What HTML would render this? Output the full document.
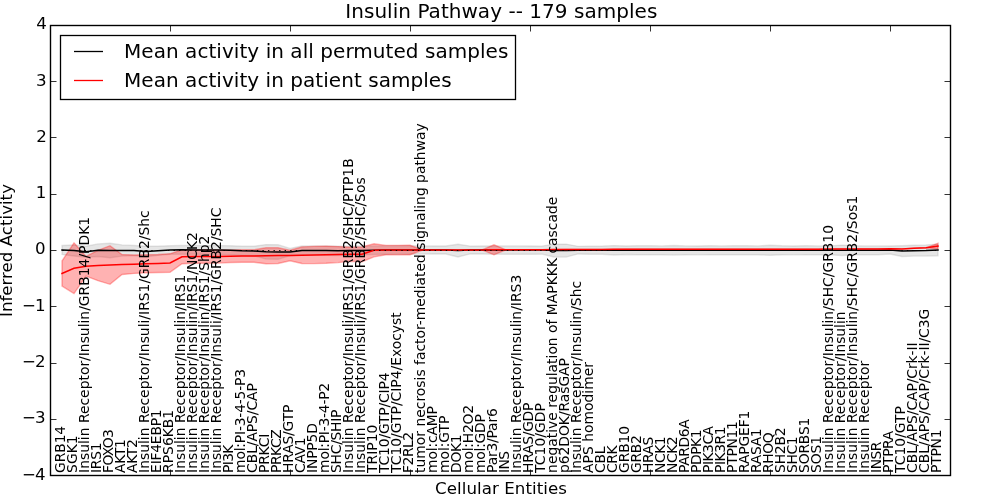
<!DOCTYPE html>
<html lang="en"><head><meta charset="utf-8"><title>Insulin Pathway -- 179 samples</title>
<style>
html,body{margin:0;padding:0;background:#fff;}
body{width:1000px;height:500px;overflow:hidden;}
svg{display:block;}
text{font-family:"DejaVu Sans","Liberation Sans",sans-serif;fill:#000;}
.t12{font-size:16.67px;}
.t14{font-size:20px;}
.t10{font-size:13.89px;}
</style></head><body>
<svg width="1000" height="500" viewBox="0 0 1000 500">
<rect x="0" y="0" width="1000" height="500" fill="#fff"/>
<polygon points="62,245.5 74,245 86,246.3 98,243.9 110,243.3 122,244.9 134,245.5 146,246.3 158,246.2 170,245.8 182,245.4 194,245.5 206,245.6 218,245.6 230,245.8 242,246.2 254,246.2 266,244.6 278,244.7 290,248.4 302,246 314,245.9 326,246 338,246.1 350,246.1 362,246 374,245.9 386,245.85 398,245.8 410,245.8 422,245.9 434,246 446,246 458,244.2 470,246.1 482,246.05 494,245.95 506,245.9 518,245.9 530,246 542,246.1 554,244.2 566,244.1 578,246.35 590,246.2 602,246.1 614,245.6 626,246.05 638,245.8 650,245.7 662,245.9 674,245.5 686,245.9 698,246 710,245.7 722,245.9 734,245.8 746,245.8 758,245.9 770,245.3 782,245.8 794,246 806,245.7 818,245.9 830,245.9 842,245.1 854,245.8 866,245.9 878,245.9 890,246 902,245.7 914,245.3 926,244.9 938,244.2 938,255.8 926,256.1 914,256.1 902,256.5 890,254 878,254.7 866,254.7 854,254.8 842,255.5 830,254.7 818,254.7 806,254.9 794,254.6 782,254.8 770,255.3 758,254.7 746,254.8 734,254.8 722,254.7 710,254.9 698,254.6 686,254.7 674,255.1 662,254.7 650,254.9 638,254.8 626,254.45 614,255 602,254.3 590,254.2 578,253.95 566,257.1 554,257 542,254.1 530,254.2 518,254.3 506,254.3 494,254.15 482,254.05 470,253.9 458,257 446,254 434,254 422,254.1 410,254.2 398,254.2 386,254.25 374,254.5 362,254.8 350,255.1 338,255.5 326,255.2 314,255.1 302,255 290,255.6 278,259.3 266,259 254,255.8 242,255.4 230,254.8 218,254.4 206,254.4 194,254.3 182,254.2 170,254.2 158,255.4 146,256.7 134,255.5 122,256.1 110,257.7 98,256.5 86,257.3 74,256 62,254.5" fill="#808080" fill-opacity="0.2" stroke="#808080" stroke-opacity="0.2" stroke-width="1.39"/>
<polygon points="62,261 74,242.8 86,256.4 98,250.3 110,245.7 122,254.5 134,255 146,254.8 158,254.5 170,253.8 182,249.8 194,249.7 206,249.7 218,249.9 230,249.9 242,249.8 254,249.7 266,247.8 278,247.7 290,250.2 302,246.9 314,246.4 326,246.3 338,246.6 350,247.3 362,246.9 374,243.8 386,245.4 398,245.4 410,245.3 422,249.7 434,250 446,250 458,250 470,249.95 482,249.9 494,244.85 506,249.8 518,249.75 530,249.7 542,249.65 554,249.6 566,249.55 578,249.5 590,249.45 602,249.4 614,249.35 626,249.3 638,249.3 650,249.3 662,249.3 674,249.3 686,249.3 698,249.3 710,249.3 722,249.3 734,249.3 746,249.3 758,249.3 770,249.3 782,249.3 794,249.3 806,249.3 818,249.3 830,249.1 842,249 854,249 866,249 878,249 890,248.8 902,248.9 914,248.3 926,247.8 938,243.3 938,248.9 926,247.8 914,248.3 902,248.9 890,248.8 878,249 866,249 854,249 842,249 830,249.1 818,249.3 806,249.3 794,249.3 782,249.3 770,249.3 758,249.3 746,249.3 734,249.3 722,249.3 710,249.3 698,249.3 686,249.3 674,249.3 662,249.3 650,249.3 638,249.3 626,249.3 614,249.35 602,249.4 590,249.45 578,249.5 566,249.55 554,249.6 542,249.65 530,249.7 518,249.75 506,249.8 494,254.85 482,249.9 470,249.95 458,250 446,250 434,250 422,250.3 410,254.7 398,254.6 386,254.8 374,256.8 362,261.7 350,261.3 338,262.6 326,263.3 314,263.6 302,263.5 290,260.8 278,263.5 266,263.8 254,262.3 242,262.2 230,262.5 218,263.1 206,263.3 194,263.3 182,263.8 170,272.2 158,272.5 146,272.8 134,273.4 122,274.5 110,284.3 98,280.7 86,276 74,293.6 62,286" fill="#ff0000" fill-opacity="0.3" stroke="#ff0000" stroke-opacity="0.3" stroke-width="1.39"/>
<polyline points="62,250 74,250.5 86,251.8 98,250.2 110,250.5 122,250.5 134,250.5 146,251.5 158,250.8 170,250 182,249.8 194,249.9 206,250 218,250 230,250.3 242,250.8 254,251 266,251.8 278,252 290,252 302,250.5 314,250.5 326,250.6 338,250.8 350,250.6 362,250.4 374,250.2 386,250.05 398,250 410,250 422,250 434,250 446,250 458,250.6 470,250 482,250.05 494,250.05 506,250.1 518,250.1 530,250.1 542,250.1 554,250.6 566,250.6 578,250.15 590,250.2 602,250.2 614,250.3 626,250.25 638,250.3 650,250.3 662,250.3 674,250.3 686,250.3 698,250.3 710,250.3 722,250.3 734,250.3 746,250.3 758,250.3 770,250.3 782,250.3 794,250.3 806,250.3 818,250.3 830,250.3 842,250.3 854,250.3 866,250.3 878,250.3 890,250 902,251.1 914,250.7 926,250.5 938,250" fill="none" stroke="#000" stroke-width="1.5" stroke-linecap="square"/>
<polyline points="62,273.5 74,268.2 86,266.2 98,265.5 110,265 122,264.5 134,264.2 146,263.8 158,263.5 170,263 182,256.8 194,256.5 206,256.5 218,256.5 230,256.2 242,256 254,256 266,255.8 278,255.6 290,255.5 302,255.2 314,255 326,254.8 338,254.6 350,254.3 362,254.3 374,250.3 386,250.1 398,250 410,250 422,250 434,250 446,250 458,250 470,249.95 482,249.9 494,249.85 506,249.8 518,249.75 530,249.7 542,249.65 554,249.6 566,249.55 578,249.5 590,249.45 602,249.4 614,249.35 626,249.3 638,249.3 650,249.3 662,249.3 674,249.3 686,249.3 698,249.3 710,249.3 722,249.3 734,249.3 746,249.3 758,249.3 770,249.3 782,249.3 794,249.3 806,249.3 818,249.3 830,249.1 842,249 854,249 866,249 878,249 890,248.8 902,248.9 914,248.3 926,247.8 938,246.1" fill="none" stroke="#ff0000" stroke-width="1.5" stroke-linecap="square"/>
<line x1="62.4" y1="250.5" x2="938.6" y2="250.5" stroke="#000" stroke-width="1" stroke-dasharray="1.39,4.166" stroke-opacity="0.9"/>
<path d="M170.5,475.5 v-6 M170.5,25.5 v6 M290.5,475.5 v-6 M290.5,25.5 v6 M410.5,475.5 v-6 M410.5,25.5 v6 M530.5,475.5 v-6 M530.5,25.5 v6 M650.5,475.5 v-6 M650.5,25.5 v6 M770.5,475.5 v-6 M770.5,25.5 v6 M890.5,475.5 v-6 M890.5,25.5 v6 M50.5,81.5 h6 M950.5,81.5 h-6 M50.5,137.5 h6 M950.5,137.5 h-6 M50.5,194.5 h6 M950.5,194.5 h-6 M50.5,250.5 h6 M950.5,250.5 h-6 M50.5,306.5 h6 M950.5,306.5 h-6 M50.5,363.5 h6 M950.5,363.5 h-6 M50.5,419.5 h6 M950.5,419.5 h-6" stroke="#000" stroke-width="1" stroke-opacity="0.8" fill="none"/>
<rect x="50.5" y="25.5" width="900" height="450" fill="none" stroke="#000" stroke-width="1.39"/>
<text class="t12" x="46.8" y="29.4" text-anchor="end">4</text>
<text class="t12" x="46.6" y="85.65" text-anchor="end">3</text>
<text class="t12" x="46.8" y="141.9" text-anchor="end">2</text>
<text class="t12" x="46.4" y="198.15" text-anchor="end">1</text>
<text class="t12" x="45.6" y="254.4" text-anchor="end">0</text>
<text class="t12" y="310.65"><tspan x="36" text-anchor="end">−</tspan><tspan x="45.5" text-anchor="end">1</tspan></text>
<text class="t12" y="366.9"><tspan x="36" text-anchor="end">−</tspan><tspan x="45.5" text-anchor="end">2</tspan></text>
<text class="t12" y="423.15"><tspan x="36" text-anchor="end">−</tspan><tspan x="45.5" text-anchor="end">3</tspan></text>
<text class="t12" y="480.2"><tspan x="36" text-anchor="end">−</tspan><tspan x="45.5" text-anchor="end">4</tspan></text>
<text class="t10" transform="translate(64.9,472.9) rotate(-90)" textLength="47.08" lengthAdjust="spacing">GRB14</text>
<text class="t10" transform="translate(76.9,472.9) rotate(-90)">SGK1</text>
<text class="t10" transform="translate(88.9,472.9) rotate(-90)">Insulin Receptor/Insulin/GRB14/PDK1</text>
<text class="t10" transform="translate(100.9,472.9) rotate(-90)" textLength="30.38" lengthAdjust="spacing">IRS1</text>
<text class="t10" transform="translate(112.9,472.9) rotate(-90)" textLength="43.79" lengthAdjust="spacing">FOXO3</text>
<text class="t10" transform="translate(124.9,472.9) rotate(-90)" textLength="33.83" lengthAdjust="spacing">AKT1</text>
<text class="t10" transform="translate(136.9,472.9) rotate(-90)" textLength="33.63" lengthAdjust="spacing">AKT2</text>
<text class="t10" transform="translate(148.9,472.9) rotate(-90)">Insulin Receptor/Insuli/IRS1/GRB2/Shc</text>
<text class="t10" transform="translate(160.9,472.9) rotate(-90)" textLength="63.56" lengthAdjust="spacing">EIF4EBP1</text>
<text class="t10" transform="translate(172.9,472.9) rotate(-90)">RPS6KB1</text>
<text class="t10" transform="translate(184.9,472.9) rotate(-90)">Insulin Receptor/Insulin/IRS1</text>
<text class="t10" transform="translate(196.9,472.9) rotate(-90)">Insulin Receptor/Insulin/IRS1/NCK2</text>
<text class="t10" transform="translate(208.9,472.9) rotate(-90)" textLength="237.23" lengthAdjust="spacing">Insulin Receptor/Insulin/IRS1/Shp2</text>
<text class="t10" transform="translate(220.9,472.9) rotate(-90)" textLength="265.34" lengthAdjust="spacing">Insulin Receptor/Insuli/IRS1/GRB2/SHC</text>
<text class="t10" transform="translate(232.9,472.9) rotate(-90)" textLength="28.39" lengthAdjust="spacing">PI3K</text>
<text class="t10" transform="translate(244.9,472.9) rotate(-90)" textLength="103.9" lengthAdjust="spacing">mol:PI-3-4-5-P3</text>
<text class="t10" transform="translate(256.9,472.9) rotate(-90)" textLength="89.7" lengthAdjust="spacing">CBL/APS/CAP</text>
<text class="t10" transform="translate(268.9,472.9) rotate(-90)" textLength="39.14" lengthAdjust="spacing">PRKCI</text>
<text class="t10" transform="translate(280.9,472.9) rotate(-90)" textLength="43.55" lengthAdjust="spacing">PRKCZ</text>
<text class="t10" transform="translate(292.9,472.9) rotate(-90)" textLength="68.19" lengthAdjust="spacing">HRAS/GTP</text>
<text class="t10" transform="translate(304.9,472.9) rotate(-90)" textLength="35.42" lengthAdjust="spacing">CAV1</text>
<text class="t10" transform="translate(316.9,472.9) rotate(-90)" textLength="49.72" lengthAdjust="spacing">INPP5D</text>
<text class="t10" transform="translate(328.9,472.9) rotate(-90)" textLength="90.08" lengthAdjust="spacing">mol:PI-3-4-P2</text>
<text class="t10" transform="translate(340.9,472.9) rotate(-90)" textLength="63.31" lengthAdjust="spacing">SHC/SHIP</text>
<text class="t10" transform="translate(352.9,472.9) rotate(-90)">Insulin Receptor/Insuli/IRS1/GRB2/SHC/PTP1B</text>
<text class="t10" transform="translate(364.9,472.9) rotate(-90)">Insulin Receptor/Insuli/IRS1/GRB2/SHC/Sos</text>
<text class="t10" transform="translate(376.9,472.9) rotate(-90)">TRIP10</text>
<text class="t10" transform="translate(388.9,472.9) rotate(-90)" textLength="100.44" lengthAdjust="spacing">TC10/GTP/CIP4</text>
<text class="t10" transform="translate(400.9,472.9) rotate(-90)">TC10/GTP/CIP4/Exocyst</text>
<text class="t10" transform="translate(412.9,472.9) rotate(-90)" textLength="41.02" lengthAdjust="spacing">F2RL2</text>
<text class="t10" transform="translate(424.9,472.9) rotate(-90)">tumor necrosis factor-mediated signaling pathway</text>
<text class="t10" transform="translate(436.9,472.9) rotate(-90)" textLength="66.8" lengthAdjust="spacing">mol:cAMP</text>
<text class="t10" transform="translate(448.9,472.9) rotate(-90)" textLength="57.24" lengthAdjust="spacing">mol:GTP</text>
<text class="t10" transform="translate(460.9,472.9) rotate(-90)" textLength="38.55" lengthAdjust="spacing">DOK1</text>
<text class="t10" transform="translate(472.9,472.9) rotate(-90)" textLength="67.95" lengthAdjust="spacing">mol:H2O2</text>
<text class="t10" transform="translate(484.9,472.9) rotate(-90)" textLength="58.74" lengthAdjust="spacing">mol:GDP</text>
<text class="t10" transform="translate(496.9,472.9) rotate(-90)" textLength="64.63" lengthAdjust="spacing">Par3/Par6</text>
<text class="t10" transform="translate(508.9,472.9) rotate(-90)" textLength="21.88" lengthAdjust="spacing">INS</text>
<text class="t10" transform="translate(520.9,472.9) rotate(-90)">Insulin Receptor/Insulin/IRS3</text>
<text class="t10" transform="translate(532.9,472.9) rotate(-90)" textLength="70.3" lengthAdjust="spacing">HRAS/GDP</text>
<text class="t10" transform="translate(544.9,472.9) rotate(-90)" textLength="69.88" lengthAdjust="spacing">TC10/GDP</text>
<text class="t10" transform="translate(556.9,472.9) rotate(-90)">negative regulation of MAPKKK cascade</text>
<text class="t10" transform="translate(568.9,472.9) rotate(-90)" textLength="114.83" lengthAdjust="spacing">p62DOK/RasGAP</text>
<text class="t10" transform="translate(580.9,472.9) rotate(-90)">Insulin Receptor/Insulin/Shc</text>
<text class="t10" transform="translate(592.9,472.9) rotate(-90)">APS homodimer</text>
<text class="t10" transform="translate(604.9,472.9) rotate(-90)" textLength="26.34" lengthAdjust="spacing">CBL</text>
<text class="t10" transform="translate(616.9,472.9) rotate(-90)" textLength="27.44" lengthAdjust="spacing">CRK</text>
<text class="t10" transform="translate(628.9,472.9) rotate(-90)" textLength="46.98" lengthAdjust="spacing">GRB10</text>
<text class="t10" transform="translate(640.9,472.9) rotate(-90)" textLength="37.75" lengthAdjust="spacing">GRB2</text>
<text class="t10" transform="translate(652.9,472.9) rotate(-90)" textLength="36.21" lengthAdjust="spacing">HRAS</text>
<text class="t10" transform="translate(664.9,472.9) rotate(-90)" textLength="36.6" lengthAdjust="spacing">NCK1</text>
<text class="t10" transform="translate(676.9,472.9) rotate(-90)" textLength="36.6" lengthAdjust="spacing">NCK2</text>
<text class="t10" transform="translate(688.9,472.9) rotate(-90)" textLength="53.62" lengthAdjust="spacing">PARD6A</text>
<text class="t10" transform="translate(700.9,472.9) rotate(-90)" textLength="43.36" lengthAdjust="spacing">PDPK1</text>
<text class="t10" transform="translate(712.9,472.9) rotate(-90)" textLength="46.98" lengthAdjust="spacing">PIK3CA</text>
<text class="t10" transform="translate(724.9,472.9) rotate(-90)" textLength="46.46" lengthAdjust="spacing">PIK3R1</text>
<text class="t10" transform="translate(736.9,472.9) rotate(-90)" textLength="51.85" lengthAdjust="spacing">PTPN11</text>
<text class="t10" transform="translate(748.9,472.9) rotate(-90)" textLength="62.27" lengthAdjust="spacing">RAPGEF1</text>
<text class="t10" transform="translate(760.9,472.9) rotate(-90)" textLength="44.57" lengthAdjust="spacing">RASA1</text>
<text class="t10" transform="translate(772.9,472.9) rotate(-90)" textLength="40.52" lengthAdjust="spacing">RHOQ</text>
<text class="t10" transform="translate(784.9,472.9) rotate(-90)" textLength="45.42" lengthAdjust="spacing">SH2B2</text>
<text class="t10" transform="translate(796.9,472.9) rotate(-90)" textLength="36.37" lengthAdjust="spacing">SHC1</text>
<text class="t10" transform="translate(808.9,472.9) rotate(-90)" textLength="55.28" lengthAdjust="spacing">SORBS1</text>
<text class="t10" transform="translate(820.9,472.9) rotate(-90)" textLength="36.98" lengthAdjust="spacing">SOS1</text>
<text class="t10" transform="translate(832.9,472.9) rotate(-90)">Insulin Receptor/Insulin/SHC/GRB10</text>
<text class="t10" transform="translate(844.9,472.9) rotate(-90)" textLength="161.48" lengthAdjust="spacing">Insulin Receptor/Insulin</text>
<text class="t10" transform="translate(856.9,472.9) rotate(-90)">Insulin Receptor/Insulin/SHC/GRB2/Sos1</text>
<text class="t10" transform="translate(868.9,472.9) rotate(-90)">Insulin Receptor</text>
<text class="t10" transform="translate(880.9,472.9) rotate(-90)" textLength="31.42" lengthAdjust="spacing">INSR</text>
<text class="t10" transform="translate(892.9,472.9) rotate(-90)" textLength="42.18" lengthAdjust="spacing">PTPRA</text>
<text class="t10" transform="translate(904.9,472.9) rotate(-90)">TC10/GTP</text>
<text class="t10" transform="translate(916.9,472.9) rotate(-90)" textLength="130.5" lengthAdjust="spacing">CBL/APS/CAP/Crk-II</text>
<text class="t10" transform="translate(928.9,472.9) rotate(-90)" textLength="164.15" lengthAdjust="spacing">CBL/APS/CAP/Crk-II/C3G</text>
<text class="t10" transform="translate(940.9,472.9) rotate(-90)" textLength="43.42" lengthAdjust="spacing">PTPN1</text>
<text class="t14" x="501.3" y="18" text-anchor="middle" textLength="312" lengthAdjust="spacing">Insulin Pathway -- 179 samples</text>
<text class="t12" x="501" y="494" text-anchor="middle" textLength="132" lengthAdjust="spacing">Cellular Entities</text>
<text class="t12" transform="translate(11.7,250.5) rotate(-90)" text-anchor="middle">Inferred Activity</text>
<rect x="60.5" y="35.5" width="455" height="64" fill="#fff" stroke="#000" stroke-width="1.3"/>
<line x1="74" y1="51.5" x2="103" y2="51.5" stroke="#000" stroke-width="1.3"/>
<line x1="74" y1="80.5" x2="103" y2="80.5" stroke="#ff0000" stroke-width="1.3"/>
<text class="t14" x="124" y="58.2" textLength="384.4" lengthAdjust="spacing">Mean activity in all permuted samples</text>
<text class="t14" x="124" y="87" textLength="327.6" lengthAdjust="spacing">Mean activity in patient samples</text>
</svg></body></html>
